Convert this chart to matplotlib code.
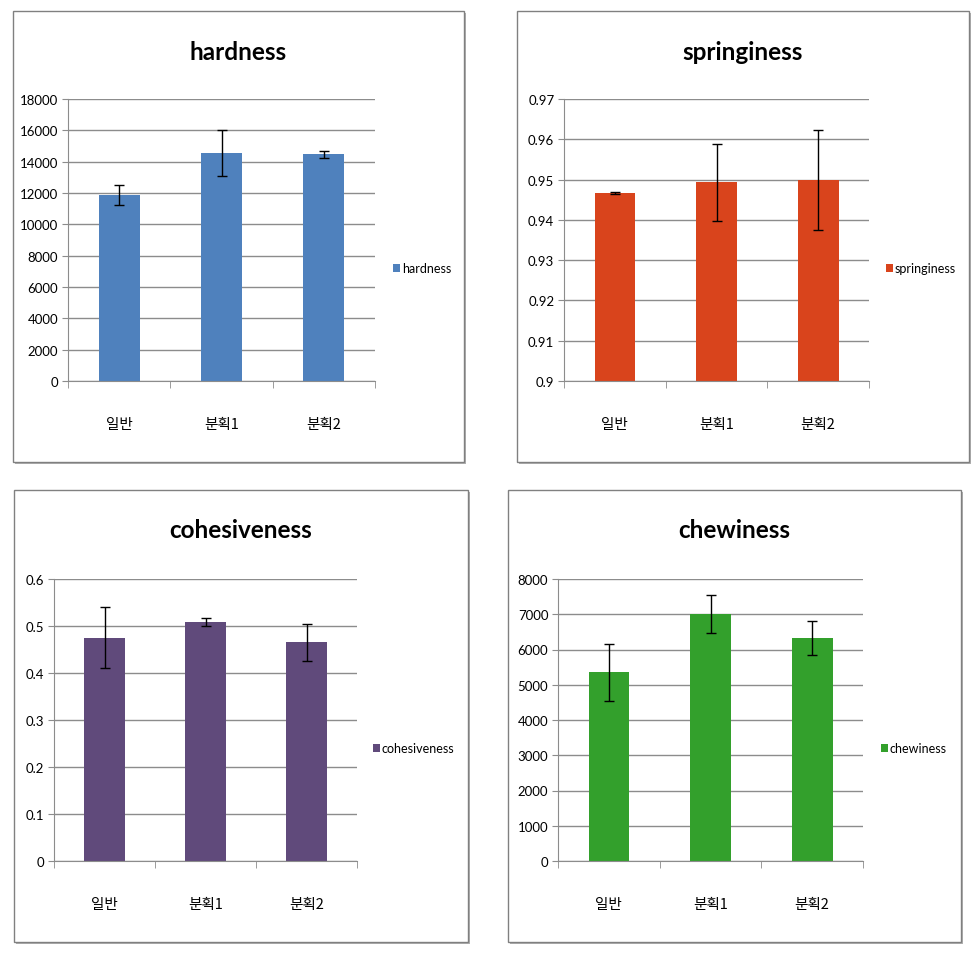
import matplotlib
matplotlib.use("Agg")
import matplotlib.pyplot as plt
from matplotlib.patches import Rectangle

categories = ["일반", "분획1", "분획2"]

hardness = [11870, 14540, 14460]
hardness_err = [630, 1450, 240]

springiness = [0.9466, 0.9493, 0.9499]
springiness_err = [0.0003, 0.0095, 0.0124]

cohesiveness = [0.475, 0.508, 0.465]
cohesiveness_err = [0.065, 0.009, 0.040]

chewiness = [5350, 7010, 6330]
chewiness_err = [810, 530, 490]

W, H = 976, 954
fig = plt.figure(figsize=(W / 100, H / 100), dpi=100)
fig.patch.set_facecolor("white")

def fx(x):
    return x / W

def fy(y):
    return 1 - y / H

panels = [
    dict(name="hardness", vals=hardness, err=hardness_err, color="#4f81bd",
         frame=(13, 12, 464, 463), axbox=(68, 100, 375, 382),
         ylim=(0, 18000), step=2000, fmt="{:.0f}", leg=(393, 269)),
    dict(name="springiness", vals=springiness, err=springiness_err, color="#d9441c",
         frame=(517, 12, 969, 463), axbox=(564, 100, 869, 382),
         ylim=(0.9, 0.97), step=0.01, fmt="{:g}", leg=(886, 269)),
    dict(name="cohesiveness", vals=cohesiveness, err=cohesiveness_err, color="#604a7b",
         frame=(14, 491, 468, 943), axbox=(54, 580, 357, 862),
         ylim=(0, 0.6), step=0.1, fmt="{:g}", leg=(373, 749)),
    dict(name="chewiness", vals=chewiness, err=chewiness_err, color="#33a02c",
         frame=(508, 491, 961, 943), axbox=(558, 580, 863, 862),
         ylim=(0, 8000), step=1000, fmt="{:.0f}", leg=(881, 749)),
]

grid_color = "#8c8c8c"

for p in panels:
    x0, y0, x1, y1 = p["frame"]
    fig.patches.append(Rectangle((fx(x0 + 2), fy(y1 + 2)), fx(x1 - x0), (y1 - y0) / H,
                                 transform=fig.transFigure, facecolor="#b0b0b0",
                                 edgecolor="none", zorder=0))
    fig.patches.append(Rectangle((fx(x0), fy(y1)), fx(x1 - x0), (y1 - y0) / H,
                                 transform=fig.transFigure, facecolor="white",
                                 edgecolor="#808080", linewidth=1.0, zorder=0.5))
    ax0, ay0, ax1, ay1 = p["axbox"]
    ax = fig.add_axes([fx(ax0), fy(ay1), fx(ax1 - ax0), (ay1 - ay0) / H])
    ax.set_zorder(5)
    ax.set_facecolor("none")
    xs = list(range(len(categories)))
    ax.bar(xs, p["vals"], width=0.4, color=p["color"], zorder=2)
    ax.errorbar(xs, p["vals"], yerr=p["err"], fmt="none", ecolor="black",
                elinewidth=1.0, capsize=3.5, capthick=1.0, zorder=3)
    lo, hi = p["ylim"]
    ax.set_ylim(lo, hi)
    ax.set_xlim(-0.5, len(categories) - 0.5)
    n = int(round((hi - lo) / p["step"]))
    yt = [lo + i * p["step"] for i in range(n + 1)]
    ax.set_yticks(yt)
    ax.set_yticklabels([p["fmt"].format(round(v, 4)) for v in yt],
                       fontfamily="Lato", fontsize=9.5)
    ax.yaxis.grid(True, color=grid_color, linewidth=1.0, zorder=1)
    ax.set_axisbelow(True)
    for s in ["top", "right"]:
        ax.spines[s].set_visible(False)
    ax.spines["left"].set_color(grid_color)
    ax.spines["bottom"].set_color(grid_color)
    ax.tick_params(axis="y", length=4, color=grid_color, pad=3)
    ax.set_xticks(xs)
    ax.set_xticklabels(categories, fontfamily=["Noto Sans CJK KR", "DejaVu Sans"],
                       fontsize=10.5)
    ax.tick_params(axis="x", which="major", length=0, pad=26)
    ax.set_xticks([-0.5, 0.5, 1.5, 2.5], minor=True)
    ax.tick_params(axis="x", which="minor", length=5, color=grid_color)
    fig.text(fx((x0 + x1) / 2), fy(y0 + 40), p["name"], ha="center", va="center",
             fontfamily="Lato", fontweight="bold", fontsize=17.5, zorder=6)
    lx, ly = p["leg"]
    fig.patches.append(Rectangle((fx(lx), fy(ly + 4)), fx(7), 8 / H,
                                 transform=fig.transFigure, facecolor=p["color"],
                                 edgecolor="none", zorder=2))
    fig.text(fx(lx + 9), fy(ly), p["name"], ha="left", va="center",
             fontfamily="Lato", fontsize=9, zorder=6)

fig.savefig("out.png", dpi=100)
